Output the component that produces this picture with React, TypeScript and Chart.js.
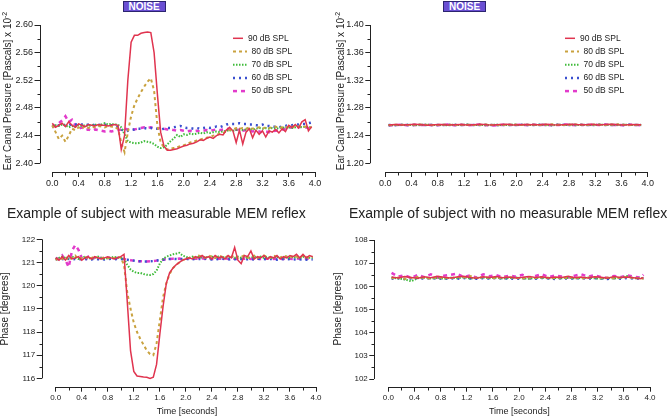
import React, { useEffect, useRef } from "react";
import { Chart, registerables } from "chart.js";
Chart.register(...registerables);

const FONT = "'Liberation Sans', Arial, Helvetica, sans-serif";

// ---------- data ----------
const TIME = [0.00,0.05,0.10,0.15,0.20,0.25,0.30,0.35,0.40,0.45,0.50,0.55,0.60,0.65,0.70,0.75,0.80,0.85,0.90,0.95,1.00,1.05,1.10,1.15,1.20,1.25,1.30,1.35,1.40,1.45,1.50,1.55,1.60,1.65,1.70,1.75,1.80,1.85,1.90,1.95,2.00,2.05,2.10,2.15,2.20,2.25,2.30,2.35,2.40,2.45,2.50,2.55,2.60,2.65,2.70,2.75,2.80,2.85,2.90,2.95,3.00,3.05,3.10,3.15,3.20,3.25,3.30,3.35,3.40,3.45,3.50,3.55,3.60,3.65,3.70,3.75,3.80,3.85,3.90,3.95];
const TIME_FLAT = [0.05,0.15,0.25,0.35,0.45,0.55,0.65,0.75,0.85,0.95,1.05,1.15,1.25,1.35,1.45,1.55,1.65,1.75,1.85,1.95,2.05,2.15,2.25,2.35,2.45,2.55,2.65,2.75,2.85,2.95,3.05,3.15,3.25,3.35,3.45,3.55,3.65,3.75,3.85,3.90];

const SERIES_LABELS = ["90 dB SPL", "80 dB SPL", "70 dB SPL", "60 dB SPL", "50 dB SPL"];

const X_MAJOR = [0, 0.4, 0.8, 1.2, 1.6, 2.0, 2.4, 2.8, 3.2, 3.6, 4.0];
const X_MINOR = [0.2, 0.6, 1.0, 1.4, 1.8, 2.2, 2.6, 3.0, 3.4, 3.8];

// Top-left: ear canal pressure, subject with reflex
const TL_90 = [2.458,2.452,2.455,2.458,2.453,2.460,2.455,2.452,2.457,2.455,2.453,2.456,2.455,2.454,2.456,2.455,2.455,2.454,2.455,2.456,2.455,2.420,2.440,2.520,2.575,2.585,2.585,2.588,2.589,2.590,2.589,2.560,2.500,2.445,2.425,2.419,2.419,2.420,2.421,2.423,2.425,2.426,2.428,2.429,2.431,2.434,2.433,2.436,2.438,2.436,2.440,2.442,2.441,2.448,2.452,2.447,2.430,2.448,2.428,2.445,2.450,2.437,2.448,2.442,2.447,2.438,2.447,2.445,2.449,2.444,2.450,2.446,2.455,2.452,2.456,2.451,2.460,2.463,2.447,2.453];
const TL_80 = [2.455,2.445,2.435,2.440,2.431,2.440,2.450,2.448,2.452,2.450,2.454,2.451,2.453,2.452,2.454,2.453,2.452,2.454,2.453,2.452,2.450,2.430,2.416,2.445,2.468,2.484,2.494,2.503,2.511,2.518,2.523,2.505,2.455,2.430,2.423,2.420,2.421,2.422,2.423,2.425,2.426,2.428,2.430,2.431,2.433,2.434,2.436,2.437,2.438,2.440,2.441,2.443,2.444,2.446,2.448,2.449,2.451,2.450,2.451,2.450,2.452,2.450,2.451,2.452,2.450,2.452,2.451,2.452,2.453,2.451,2.452,2.453,2.452,2.453,2.452,2.453,2.452,2.453,2.452,2.452];
const TL_70 = [2.453,2.455,2.454,2.456,2.455,2.452,2.454,2.453,2.455,2.454,2.455,2.454,2.455,2.456,2.455,2.456,2.458,2.456,2.457,2.456,2.456,2.452,2.442,2.432,2.430,2.429,2.429,2.430,2.432,2.431,2.430,2.428,2.424,2.422,2.423,2.427,2.432,2.436,2.441,2.438,2.442,2.441,2.443,2.442,2.443,2.444,2.443,2.445,2.444,2.445,2.446,2.445,2.446,2.447,2.448,2.447,2.448,2.449,2.448,2.449,2.450,2.449,2.450,2.451,2.450,2.451,2.450,2.451,2.450,2.451,2.452,2.451,2.452,2.451,2.452,2.453,2.452,2.453,2.452,2.452];
const TL_60 = [2.455,2.453,2.455,2.454,2.456,2.455,2.457,2.456,2.457,2.456,2.455,2.456,2.456,2.455,2.456,2.455,2.456,2.455,2.455,2.454,2.452,2.449,2.446,2.447,2.448,2.449,2.450,2.450,2.451,2.450,2.451,2.450,2.450,2.449,2.450,2.451,2.451,2.452,2.453,2.454,2.452,2.451,2.451,2.450,2.451,2.450,2.451,2.452,2.451,2.452,2.453,2.452,2.454,2.456,2.457,2.457,2.457,2.458,2.457,2.457,2.456,2.456,2.455,2.455,2.456,2.454,2.454,2.453,2.453,2.452,2.453,2.454,2.455,2.455,2.456,2.456,2.457,2.457,2.458,2.459];
const TL_50 = [2.452,2.455,2.458,2.462,2.468,2.460,2.463,2.455,2.450,2.452,2.448,2.449,2.447,2.449,2.448,2.447,2.446,2.447,2.446,2.447,2.448,2.449,2.450,2.449,2.450,2.449,2.450,2.451,2.452,2.451,2.452,2.451,2.450,2.451,2.450,2.449,2.449,2.448,2.447,2.448,2.447,2.446,2.447,2.446,2.447,2.446,2.447,2.448,2.447,2.448,2.449,2.448,2.449,2.450,2.449,2.448,2.449,2.448,2.447,2.448,2.447,2.446,2.447,2.446,2.445,2.446,2.445,2.446,2.447,2.448,2.449,2.450,2.451,2.452,2.451,2.452,2.453,2.452,2.451,2.452];

// Top-right: ear canal pressure, subject without reflex
const TR_90 = [1.2555,1.2560,1.2552,1.2558,1.2563,1.2556,1.2550,1.2559,1.2562,1.2554,1.2557,1.2561,1.2553,1.2558,1.2564,1.2556,1.2552,1.2560,1.2563,1.2555,1.2558,1.2562,1.2556,1.2559,1.2565,1.2557,1.2553,1.2561,1.2564,1.2556,1.2559,1.2563,1.2555,1.2560,1.2566,1.2558,1.2554,1.2561,1.2557,1.2556];
const TR_80 = [1.2552,1.2556,1.2559,1.2553,1.2557,1.2561,1.2554,1.2550,1.2558,1.2560,1.2553,1.2556,1.2559,1.2552,1.2557,1.2562,1.2555,1.2551,1.2558,1.2561,1.2554,1.2557,1.2560,1.2553,1.2558,1.2563,1.2556,1.2552,1.2559,1.2562,1.2555,1.2558,1.2561,1.2554,1.2559,1.2563,1.2556,1.2553,1.2558,1.2555];
const TR_70 = [1.2549,1.2555,1.2553,1.2557,1.2551,1.2556,1.2558,1.2552,1.2555,1.2550,1.2557,1.2554,1.2558,1.2553,1.2556,1.2551,1.2557,1.2555,1.2552,1.2558,1.2554,1.2556,1.2553,1.2559,1.2555,1.2551,1.2557,1.2554,1.2558,1.2553,1.2556,1.2552,1.2558,1.2555,1.2557,1.2553,1.2559,1.2554,1.2556,1.2553];
const TR_60 = [1.2553,1.2551,1.2556,1.2554,1.2552,1.2557,1.2553,1.2555,1.2551,1.2556,1.2554,1.2552,1.2557,1.2555,1.2553,1.2556,1.2554,1.2551,1.2555,1.2553,1.2557,1.2554,1.2552,1.2556,1.2553,1.2555,1.2558,1.2554,1.2552,1.2556,1.2555,1.2553,1.2557,1.2554,1.2552,1.2556,1.2554,1.2557,1.2553,1.2554];
const TR_50 = [1.2547,1.2553,1.2558,1.2550,1.2556,1.2552,1.2559,1.2548,1.2555,1.2560,1.2551,1.2557,1.2549,1.2556,1.2561,1.2550,1.2546,1.2554,1.2559,1.2551,1.2557,1.2553,1.2560,1.2552,1.2558,1.2550,1.2555,1.2561,1.2553,1.2557,1.2551,1.2559,1.2554,1.2560,1.2552,1.2557,1.2550,1.2556,1.2553,1.2549];

// Bottom-left: phase, subject with reflex
const BL_90 = [121.2,121.1,121.25,121.1,121.3,121.15,121.2,121.25,121.1,121.2,121.25,121.15,121.25,121.2,121.15,121.2,121.25,121.2,121.15,121.2,121.25,121.35,119.3,117.2,116.3,116.1,116.08,116.06,116.05,116.0,116.05,116.6,117.9,119.1,120.1,120.55,120.75,120.9,121.0,121.1,121.15,121.2,121.15,121.25,121.2,121.3,121.2,121.25,121.15,121.3,121.2,121.25,121.15,121.3,121.2,121.65,121.1,120.95,121.3,121.25,121.5,121.15,121.25,121.2,121.3,121.15,121.25,121.2,121.3,121.15,121.25,121.2,121.3,121.25,121.35,121.2,121.35,121.2,121.3,121.25];
const BL_80 = [121.1,121.2,121.15,121.25,121.1,121.2,121.3,121.15,121.2,121.25,121.15,121.2,121.25,121.2,121.15,121.25,121.2,121.15,121.2,121.25,121.2,120.9,119.7,119.0,118.4,118.0,117.7,117.45,117.2,117.05,117.0,117.5,118.5,119.5,120.1,120.5,120.75,120.9,121.0,121.1,121.15,121.2,121.25,121.2,121.3,121.25,121.2,121.3,121.25,121.2,121.3,121.25,121.2,121.3,121.25,121.3,121.2,121.25,121.3,121.2,121.25,121.3,121.2,121.25,121.3,121.25,121.2,121.3,121.25,121.2,121.3,121.25,121.2,121.3,121.25,121.2,121.3,121.25,121.2,121.25];
const BL_70 = [121.15,121.2,121.25,121.2,121.15,121.25,121.2,121.15,121.2,121.25,121.2,121.15,121.2,121.25,121.2,121.15,121.2,121.2,121.25,121.2,121.2,121.15,120.9,120.7,120.6,120.55,120.55,120.5,120.47,120.46,120.5,120.65,120.95,121.15,121.25,121.3,121.35,121.38,121.42,121.3,121.25,121.2,121.25,121.2,121.25,121.2,121.25,121.2,121.25,121.2,121.25,121.2,121.25,121.2,121.25,121.2,121.25,121.2,121.25,121.2,121.2,121.25,121.2,121.25,121.2,121.25,121.2,121.2,121.25,121.2,121.2,121.25,121.2,121.25,121.2,121.2,121.25,121.2,121.2,121.2];
const BL_60 = [121.15,121.12,121.15,121.13,121.16,121.14,121.15,121.12,121.16,121.14,121.15,121.13,121.16,121.14,121.15,121.13,121.15,121.16,121.14,121.15,121.15,121.14,121.12,121.1,121.08,121.06,121.05,121.04,121.04,121.05,121.06,121.08,121.1,121.12,121.14,121.15,121.16,121.15,121.14,121.15,121.16,121.14,121.15,121.13,121.15,121.14,121.16,121.15,121.13,121.15,121.14,121.16,121.15,121.13,121.15,121.14,121.16,121.15,121.13,121.14,121.15,121.13,121.16,121.14,121.15,121.13,121.15,121.14,121.12,121.15,121.14,121.13,121.15,121.12,121.14,121.13,121.15,121.12,121.14,121.13];
const BL_50 = [121.2,121.15,121.3,121.1,120.8,121.5,121.75,121.55,121.2,121.1,121.25,121.15,121.2,121.15,121.2,121.15,121.2,121.18,121.15,121.2,121.18,121.15,121.12,121.1,121.08,121.06,121.05,121.05,121.04,121.05,121.06,121.08,121.1,121.12,121.14,121.15,121.16,121.15,121.17,121.15,121.16,121.18,121.15,121.17,121.16,121.18,121.15,121.17,121.16,121.15,121.17,121.16,121.18,121.15,121.17,121.16,121.15,121.17,121.16,121.18,121.15,121.17,121.16,121.15,121.17,121.16,121.18,121.15,121.17,121.16,121.15,121.17,121.16,121.15,121.17,121.16,121.15,121.17,121.16,121.15];

// Bottom-right: phase, subject without reflex
const BR_90 = [106.40,106.36,106.42,106.38,106.35,106.41,106.37,106.43,106.39,106.36,106.40,106.44,106.38,106.35,106.41,106.38,106.42,106.37,106.40,106.36,106.39,106.43,106.38,106.41,106.36,106.40,106.38,106.43,106.37,106.40,106.36,106.41,106.39,106.35,106.42,106.38,106.40,106.37,106.33,106.38];
const BR_80 = [106.35,106.38,106.33,106.37,106.40,106.36,106.34,106.39,106.37,106.35,106.40,106.38,106.45,106.36,106.39,106.37,106.35,106.38,106.40,106.36,106.34,106.38,106.36,106.39,106.37,106.35,106.38,106.36,106.39,106.34,106.37,106.40,106.36,106.38,106.35,106.37,106.39,106.36,106.34,106.33];
const BR_70 = [106.38,106.34,106.30,106.22,106.35,106.38,106.34,106.36,106.33,106.37,106.35,106.39,106.34,106.36,106.38,106.35,106.37,106.34,106.36,106.38,106.35,106.33,106.36,106.38,106.34,106.36,106.35,106.37,106.34,106.36,106.38,106.35,106.33,106.36,106.34,106.37,106.44,106.35,106.36,106.34];
const BR_60 = [106.33,106.35,106.32,106.34,106.36,106.33,106.35,106.34,106.32,106.35,106.33,106.36,106.34,106.33,106.35,106.34,106.36,106.33,106.35,106.32,106.34,106.35,106.33,106.36,106.34,106.32,106.35,106.33,106.34,106.36,106.33,106.35,106.34,106.32,106.35,106.33,106.36,106.34,106.33,106.35];
const BR_50 = [106.58,106.42,106.48,106.36,106.50,106.40,106.52,106.38,106.46,106.50,106.55,106.40,106.47,106.38,106.52,106.44,106.48,106.40,106.46,106.42,106.50,106.38,106.45,106.52,106.40,106.47,106.43,106.38,106.46,106.52,106.42,106.48,106.40,106.36,106.45,106.40,106.48,106.42,106.38,106.50];

// Y ticks
const TL_Y_MAJOR = [2.40, 2.44, 2.48, 2.52, 2.56, 2.60];
const TL_Y_MINOR = [2.42, 2.46, 2.50, 2.54, 2.58];
const TR_Y_MAJOR = [1.20, 1.24, 1.28, 1.32, 1.36, 1.40];
const TR_Y_MINOR = [1.22, 1.26, 1.30, 1.34, 1.38];
const BL_Y_MAJOR = [116, 117, 118, 119, 120, 121, 122];
const BL_Y_MINOR = [116.5, 117.5, 118.5, 119.5, 120.5, 121.5];
const BR_Y_MAJOR = [102, 103, 104, 105, 106, 107, 108];
const BR_Y_MINOR = [102.5, 103.5, 104.5, 105.5, 106.5, 107.5];

// ---------- styles ----------
const COLORS = ["#e0344f", "#c9a23f", "#3fbb3a", "#3a4fcf", "#e23bcb"];
const DASHES: number[][] = [[], [3, 3], [1.5, 1.5], [2, 4], [4, 4]];
const WIDTHS = [1.5, 2, 2, 2.5, 2.5];

type PanelCfg = {
  time: number[];
  series: number[][];
  xMin: number;
  yMin: number;
  yMax: number;
  yMajor: number[];
  yMinor: number[];
  yDigits: number;
  padding: { left: number; top: number; right: number; bottom: number };
  yWidth: number;
  tickFont: number;
  legend?: { x: number; y: number; dy: number };
};

const PANELS: PanelCfg[] = [
  {
    time: TIME, series: [TL_90, TL_80, TL_70, TL_60, TL_50],
    xMin: -0.195, yMin: 2.3874, yMax: 2.60, yMajor: TL_Y_MAJOR, yMinor: TL_Y_MINOR, yDigits: 2,
    padding: { left: 0, top: 25, right: 357, bottom: 224 }, yWidth: 39.5, tickFont: 9,
    legend: { x: 233, y: 38.3, dy: 13.2 },
  },
  {
    time: TIME_FLAT, series: [TR_90, TR_80, TR_70, TR_60, TR_50],
    xMin: -0.229, yMin: 1.1874, yMax: 1.40, yMajor: TR_Y_MAJOR, yMinor: TR_Y_MINOR, yDigits: 2,
    padding: { left: 340.3, top: 25, right: 24.3, bottom: 224 }, yWidth: 30, tickFont: 9,
    legend: { x: 565, y: 38.3, dy: 13.2 },
  },
  {
    time: TIME, series: [BL_90, BL_80, BL_70, BL_60, BL_50],
    xMin: -0.215, yMin: 115.64, yMax: 122, yMajor: BL_Y_MAJOR, yMinor: BL_Y_MINOR, yDigits: 0,
    padding: { left: 0, top: 239.3, right: 356, bottom: 9.3 }, yWidth: 41.7, tickFont: 8,
  },
  {
    time: TIME_FLAT, series: [BR_90, BR_80, BR_70, BR_60, BR_50],
    xMin: -0.214, yMin: 101.67, yMax: 108, yMajor: BR_Y_MAJOR, yMinor: BR_Y_MINOR, yDigits: 0,
    padding: { left: 340, top: 240, right: 22, bottom: 9.3 }, yWidth: 34.3, tickFont: 8,
  },
];

function Panel({ cfg }: { cfg: PanelCfg }) {
  const ref = useRef<HTMLCanvasElement>(null);
  useEffect(() => {
    const deco = {
      id: "axisDeco",
      afterDraw(chart: any) {
        const ctx = chart.ctx;
        const xs = chart.scales.x;
        const ys = chart.scales.y;
        const area = chart.chartArea;
        ctx.save();
        ctx.strokeStyle = "#222";
        ctx.lineWidth = 1;
        // axis lines (detached)
        const yTop = ys.getPixelForValue(cfg.yMajor[cfg.yMajor.length - 1]);
        const yBot = ys.getPixelForValue(cfg.yMajor[0]);
        const ax = Math.round(area.left) + 0.5;
        ctx.beginPath();
        ctx.moveTo(ax, yTop);
        ctx.lineTo(ax, yBot);
        const ay = Math.round(area.bottom) + 0.5;
        ctx.moveTo(xs.getPixelForValue(X_MAJOR[0]), ay);
        ctx.lineTo(xs.getPixelForValue(X_MAJOR[X_MAJOR.length - 1]), ay);
        // minor ticks
        cfg.yMinor.forEach((v) => {
          const p = Math.round(ys.getPixelForValue(v)) + 0.5;
          ctx.moveTo(ax - 3, p);
          ctx.lineTo(ax, p);
        });
        X_MINOR.forEach((v) => {
          const p = Math.round(xs.getPixelForValue(v)) + 0.5;
          ctx.moveTo(p, ay);
          ctx.lineTo(p, ay + 3);
        });
        ctx.stroke();
        // legend
        if (cfg.legend) {
          const lg = cfg.legend;
          ctx.font = `8.5px ${FONT}`;
          ctx.textBaseline = "middle";
          ctx.textAlign = "left";
          chart.data.datasets.forEach((ds: any, i: number) => {
            const y = lg.y + i * lg.dy;
            ctx.beginPath();
            ctx.strokeStyle = ds.borderColor;
            ctx.lineWidth = ds.borderWidth;
            ctx.setLineDash(ds.borderDash || []);
            const len = i === 0 ? 10 : 14;
            ctx.moveTo(lg.x, y);
            ctx.lineTo(lg.x + len, y);
            ctx.stroke();
            ctx.setLineDash([]);
            ctx.fillStyle = "#222";
            ctx.fillText(ds.label, lg.x + (i === 0 ? 15 : 18.5), y);
          });
        }
        ctx.restore();
      },
    };

    const chart = new Chart(ref.current as HTMLCanvasElement, {
      type: "line",
      data: {
        datasets: cfg.series.map((s, i) => ({
          label: SERIES_LABELS[i],
          data: cfg.time.map((t, k) => ({ x: t, y: s[k] })),
          borderColor: COLORS[i],
          backgroundColor: COLORS[i],
          borderWidth: WIDTHS[i],
          borderDash: DASHES[i],
          pointRadius: 0,
          tension: 0,
          fill: false,
        })),
      },
      options: {
        animation: false,
        responsive: false,
        events: [],
        layout: { padding: cfg.padding },
        plugins: { legend: { display: false }, tooltip: { enabled: false } },
        scales: {
          x: {
            type: "linear",
            min: cfg.xMin,
            max: 4,
            bounds: "data",
            afterBuildTicks: (s: any) => {
              s.ticks = X_MAJOR.map((v) => ({ value: v }));
            },
            afterFit: (s: any) => {
              s.height = 20;
            },
            ticks: {
              autoSkip: false,
              maxRotation: 0,
              padding: 1.5,
              color: "#222",
              font: { family: FONT, size: cfg.tickFont },
              callback: (v: any) => Number(v).toFixed(1),
            },
            grid: { display: true, drawOnChartArea: false, drawTicks: true, tickLength: 5, color: "#222", tickWidth: 1 },
            border: { display: false },
          },
          y: {
            type: "linear",
            min: cfg.yMin,
            max: cfg.yMax,
            bounds: "data",
            afterBuildTicks: (s: any) => {
              s.ticks = cfg.yMajor.map((v) => ({ value: v }));
            },
            afterFit: (s: any) => {
              s.width = cfg.yWidth;
            },
            ticks: {
              autoSkip: false,
              padding: 1.5,
              color: "#222",
              font: { family: FONT, size: cfg.tickFont },
              callback: (v: any) => Number(v).toFixed(cfg.yDigits),
            },
            grid: { display: true, drawOnChartArea: false, drawTicks: true, tickLength: 5, color: "#222", tickWidth: 1 },
            border: { display: false },
          },
        },
      } as any,
      plugins: [deco],
    });
    return () => chart.destroy();
  }, [cfg]);
  return (
    <canvas
      ref={ref}
      width={672}
      height={416}
      style={{ position: "absolute", left: 0, top: 0, width: 672, height: 416 }}
    />
  );
}

const textBase: React.CSSProperties = {
  position: "absolute",
  fontFamily: FONT,
  color: "#222",
  whiteSpace: "nowrap",
  lineHeight: 1,
};

function VTitle({ x, y, children }: { x: number; y: number; children: React.ReactNode }) {
  return (
    <div style={{ ...textBase, left: x, top: y, fontSize: 10, transform: "translate(-50%,-50%) rotate(-90deg)" }}>
      {children}
    </div>
  );
}

function HText({ x, y, size, children }: { x: number; y: number; size: number; children: React.ReactNode }) {
  return (
    <div style={{ ...textBase, left: x, top: y, fontSize: size, transform: "translate(-50%,-50%)" }}>
      {children}
    </div>
  );
}

function Noise({ x }: { x: number }) {
  return (
    <div
      style={{
        position: "absolute",
        left: x,
        top: 1,
        width: 43,
        height: 11,
        boxSizing: "border-box",
        background: "#6a4fd3",
        border: "1px solid #2c2470",
        color: "#fff",
        fontFamily: FONT,
        fontWeight: "bold",
        fontSize: 10,
        lineHeight: "9px",
        textAlign: "center",
      }}
    >
      NOISE
    </div>
  );
}

const supStyle: React.CSSProperties = { fontSize: 7, verticalAlign: "4px" };

export default function App() {
  return (
    <div style={{ position: "fixed", left: 0, top: 0, width: 672, height: 416, background: "#fff", overflow: "hidden" }}>
      {PANELS.map((p, i) => (
        <Panel key={i} cfg={p} />
      ))}
      <Noise x={122.5} />
      <Noise x={443} />
      <VTitle x={6.5} y={91}>
        Ear Canal Pressure [Pascals] x 10<span style={supStyle}>-2</span>
      </VTitle>
      <VTitle x={340} y={91}>
        Ear Canal Pressure [Pascals] x 10<span style={supStyle}>-2</span>
      </VTitle>
      <VTitle x={5} y={308.7}>Phase [degrees]</VTitle>
      <VTitle x={338} y={308.7}>Phase [degrees]</VTitle>
      <div style={{ ...textBase, left: 7, top: 205.5, fontSize: 14 }}>Example of subject with measurable MEM reflex</div>
      <div style={{ ...textBase, left: 349, top: 205.5, fontSize: 14 }}>Example of subject with no measurable MEM reflex</div>
      <HText x={187} y={410.7} size={9}>Time [seconds]</HText>
      <HText x={519.3} y={410.7} size={9}>Time [seconds]</HText>
    </div>
  );
}
